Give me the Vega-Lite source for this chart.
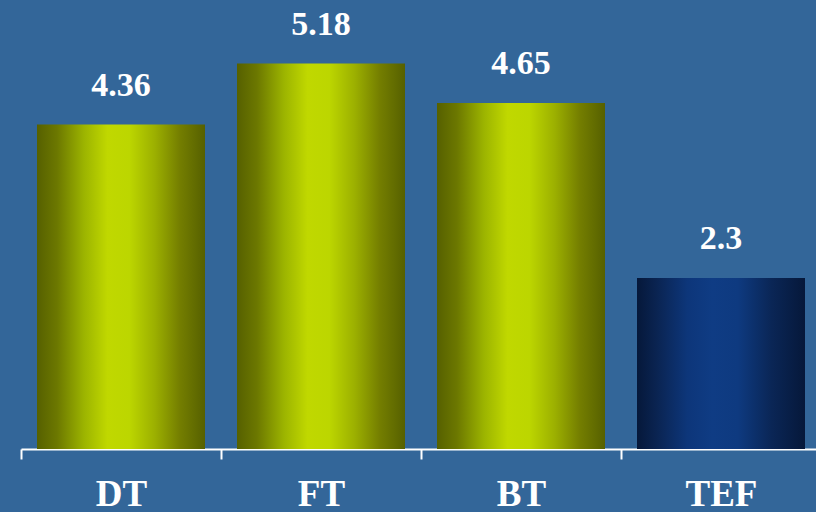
{
  "$schema": "https://vega.github.io/schema/vega-lite/v6.json",
  "width": 800,
  "height": 449,
  "autosize": {"type": "none"},
  "padding": {"left": 21, "top": 0, "right": 0, "bottom": 63},
  "background": "#336699",
  "config": {"view": {"stroke": null}},
  "data": {"values": [
    {"cat": "DT", "value": 4.36, "group": "a"},
    {"cat": "FT", "value": 5.18, "group": "a"},
    {"cat": "BT", "value": 4.65, "group": "a"},
    {"cat": "TEF", "value": 2.3, "group": "b"}
  ]},
  "encoding": {
    "x": {"field": "cat", "type": "nominal", "sort": null,
      "scale": {"paddingInner": 0.16, "paddingOuter": 0.08},
      "axis": {"title": null, "labelAngle": 0, "domainColor": "#ffffff", "domainWidth": 2,
        "tickColor": "#ffffff", "tickWidth": 2, "tickSize": 10, "bandPosition": 0, "tickOffset": -16,
        "labelOffset": 16,
        "labelColor": "#ffffff", "labelFont": "Liberation Serif", "labelFontWeight": "bold",
        "labelFontSize": 37, "labelPadding": 17, "labelBaseline": "top"}},
    "y": {"field": "value", "type": "quantitative",
      "scale": {"domain": [0, 6.035], "nice": false, "zero": true},
      "axis": null}
  },
  "layer": [
    {"transform": [{"filter": "datum.group == 'a'"}],
     "mark": {"type": "bar", "color": {"gradient": "linear", "x1": 0, "x2": 1, "y1": 0, "y2": 0,
       "stops": [
         {"offset": 0, "color": "#566000"},
         {"offset": 0.12, "color": "#6c7800"},
         {"offset": 0.28, "color": "#9cb400"},
         {"offset": 0.42, "color": "#c0d800"},
         {"offset": 0.55, "color": "#bcd600"},
         {"offset": 0.7, "color": "#9cb000"},
         {"offset": 0.85, "color": "#747e00"},
         {"offset": 1, "color": "#566000"}
       ]}}},
    {"transform": [{"filter": "datum.group == 'b'"}],
     "mark": {"type": "bar", "color": {"gradient": "linear", "x1": 0, "x2": 1, "y1": 0, "y2": 0,
       "stops": [
         {"offset": 0, "color": "#06183a"},
         {"offset": 0.12, "color": "#0a2452"},
         {"offset": 0.3, "color": "#0d367a"},
         {"offset": 0.45, "color": "#0f3c84"},
         {"offset": 0.6, "color": "#0e3a80"},
         {"offset": 0.8, "color": "#0a2656"},
         {"offset": 1, "color": "#06183a"}
       ]}}},
    {"mark": {"type": "text", "dy": -29, "baseline": "alphabetic", "color": "#ffffff",
       "font": "Liberation Serif", "fontWeight": "bold", "fontSize": 34},
     "encoding": {"text": {"field": "value", "type": "quantitative"}}}
  ]
}
